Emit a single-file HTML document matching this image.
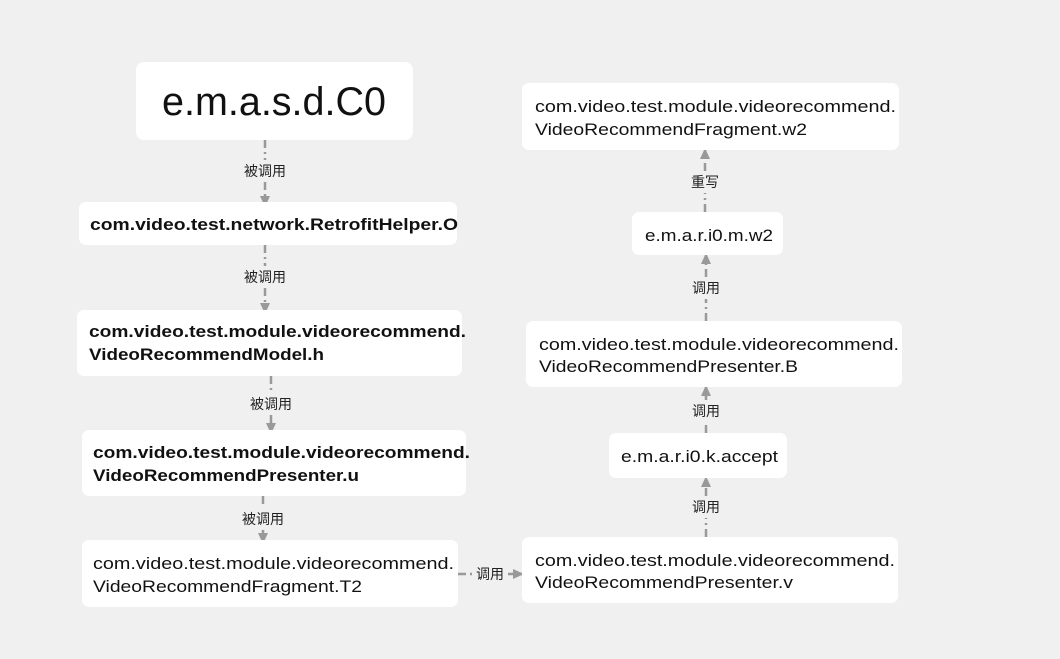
<!DOCTYPE html>
<html><head><meta charset="utf-8"><style>
html,body{margin:0;padding:0;background:#f0f0f0;}
svg{display:block;}
text{font-family:"Liberation Sans","Noto Sans CJK SC",sans-serif;fill:#111;}
.b{font-weight:bold;font-size:17px;}
.n{font-size:17px;}
.l{font-size:14px;fill:#222;text-anchor:middle;}
.c{stroke:#999;stroke-width:2.5;stroke-dasharray:8 4 2 4;fill:none;}
rect{fill:#fff;}
</style></head><body>
<svg width="1060" height="659" xmlns="http://www.w3.org/2000/svg">
<defs><marker id="a" markerWidth="12" markerHeight="12" refX="9" refY="6" orient="auto" markerUnits="userSpaceOnUse"><path d="M0,1 L11,6 L0,11 Z" fill="#999"/></marker></defs>
<g class="c">
<line x1="265" y1="140" x2="265" y2="160"/><line x1="265" y1="182" x2="265" y2="205" marker-end="url(#a)"/>
<line x1="265" y1="245" x2="265" y2="266"/><line x1="265" y1="288" x2="265" y2="312" marker-end="url(#a)"/>
<line x1="271" y1="376" x2="271" y2="393"/><line x1="271" y1="415" x2="271" y2="432" marker-end="url(#a)"/>
<line x1="263" y1="496" x2="263" y2="508"/><line x1="263" y1="530" x2="263" y2="542" marker-end="url(#a)"/>
<line x1="458" y1="574" x2="472" y2="574"/><line x1="508" y1="574" x2="522" y2="574" marker-end="url(#a)"/>
<line x1="706" y1="537" x2="706" y2="518"/><line x1="706" y1="496" x2="706" y2="478" marker-end="url(#a)"/>
<line x1="706" y1="433" x2="706" y2="422"/><line x1="706" y1="400" x2="706" y2="387" marker-end="url(#a)"/>
<line x1="706" y1="321" x2="706" y2="299"/><line x1="706" y1="277" x2="706" y2="255" marker-end="url(#a)"/>
<line x1="705" y1="212" x2="705" y2="193"/><line x1="705" y1="171" x2="705" y2="150" marker-end="url(#a)"/>
</g>
<text class="l" x="265" y="176">被调用</text>
<text class="l" x="265" y="282">被调用</text>
<text class="l" x="271" y="409">被调用</text>
<text class="l" x="263" y="524">被调用</text>
<text class="l" x="490" y="579">调用</text>
<text class="l" x="706" y="512">调用</text>
<text class="l" x="706" y="416">调用</text>
<text class="l" x="706" y="293">调用</text>
<text class="l" x="705" y="187">重写</text>
<rect x="136" y="62" width="277" height="78" rx="8"/>
<text x="274" y="115" text-anchor="middle" style="font-size:40px" textLength="224" lengthAdjust="spacingAndGlyphs">e.m.a.s.d.C0</text>
<rect x="79" y="202" width="378" height="43" rx="7"/>
<text class="b" x="90" y="230" textLength="368" lengthAdjust="spacingAndGlyphs">com.video.test.network.RetrofitHelper.O</text>
<rect x="77" y="310" width="385" height="66" rx="7"/>
<text class="b" x="89" y="337" textLength="377" lengthAdjust="spacingAndGlyphs">com.video.test.module.videorecommend.</text>
<text class="b" x="89" y="360" textLength="235" lengthAdjust="spacingAndGlyphs">VideoRecommendModel.h</text>
<rect x="82" y="430" width="384" height="66" rx="7"/>
<text class="b" x="93" y="458" textLength="377" lengthAdjust="spacingAndGlyphs">com.video.test.module.videorecommend.</text>
<text class="b" x="93" y="481" textLength="266" lengthAdjust="spacingAndGlyphs">VideoRecommendPresenter.u</text>
<rect x="82" y="540" width="376" height="67" rx="7"/>
<text class="n" x="93" y="569" textLength="361" lengthAdjust="spacingAndGlyphs">com.video.test.module.videorecommend.</text>
<text class="n" x="93" y="592" textLength="269" lengthAdjust="spacingAndGlyphs">VideoRecommendFragment.T2</text>
<rect x="522" y="537" width="376" height="66" rx="7"/>
<text class="n" x="535" y="566" textLength="360" lengthAdjust="spacingAndGlyphs">com.video.test.module.videorecommend.</text>
<text class="n" x="535" y="588" textLength="258" lengthAdjust="spacingAndGlyphs">VideoRecommendPresenter.v</text>
<rect x="609" y="433" width="178" height="45" rx="7"/>
<text class="n" x="621" y="462" textLength="157" lengthAdjust="spacingAndGlyphs">e.m.a.r.i0.k.accept</text>
<rect x="526" y="321" width="376" height="66" rx="7"/>
<text class="n" x="539" y="350" textLength="360" lengthAdjust="spacingAndGlyphs">com.video.test.module.videorecommend.</text>
<text class="n" x="539" y="372" textLength="259" lengthAdjust="spacingAndGlyphs">VideoRecommendPresenter.B</text>
<rect x="632" y="212" width="151" height="43" rx="7"/>
<text class="n" x="645" y="241" textLength="128" lengthAdjust="spacingAndGlyphs">e.m.a.r.i0.m.w2</text>
<rect x="522" y="83" width="377" height="67" rx="7"/>
<text class="n" x="535" y="112" textLength="361" lengthAdjust="spacingAndGlyphs">com.video.test.module.videorecommend.</text>
<text class="n" x="535" y="135" textLength="272" lengthAdjust="spacingAndGlyphs">VideoRecommendFragment.w2</text>
</svg>
</body></html>
